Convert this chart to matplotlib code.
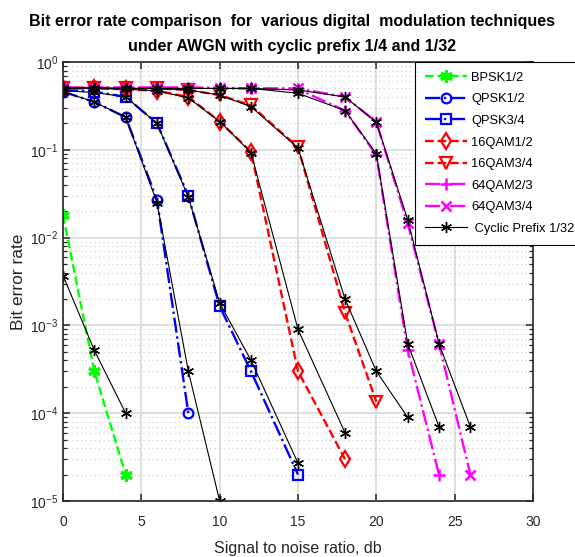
import matplotlib
matplotlib.use("Agg")
import matplotlib.pyplot as plt
from matplotlib.ticker import LogLocator, NullFormatter

plt.rcParams['font.family'] = ['Liberation Sans', 'DejaVu Sans']

# ---- data ----
BPSK12_SNR = [0, 2, 4]
BPSK12_BER = [1.8e-2, 3.0e-4, 2.0e-5]
BPSK12_CP = [3.7e-3, 5.2e-4, 1.0e-4]

QPSK12_SNR = [0, 2, 4, 6, 8]
QPSK12_BER = [0.46, 0.35, 0.235, 0.027, 1.0e-4]
QPSK12_CP_SNR = [0, 2, 4, 6, 8, 10]
QPSK12_CP = [0.46, 0.35, 0.235, 0.025, 3.0e-4, 1.0e-5]

QPSK34_SNR = [0, 2, 4, 6, 8, 10, 12, 15]
QPSK34_BER = [0.48, 0.46, 0.40, 0.20, 0.030, 1.65e-3, 3.0e-4, 2.0e-5]
QPSK34_CP = [0.47, 0.45, 0.40, 0.20, 0.029, 1.8e-3, 4.0e-4, 2.7e-5]

QAM16_12_SNR = [0, 2, 4, 6, 8, 10, 12, 15, 18]
QAM16_12_BER = [0.50, 0.50, 0.49, 0.47, 0.40, 0.21, 0.095, 3.0e-4, 3.0e-5]
QAM16_12_CP = [0.50, 0.50, 0.49, 0.47, 0.39, 0.21, 0.093, 9.0e-4, 6.0e-5]

QAM16_34_SNR = [0, 2, 4, 6, 8, 10, 12, 15, 18, 20]
QAM16_34_BER = [0.51, 0.51, 0.50, 0.50, 0.48, 0.42, 0.32, 0.107, 1.4e-3, 1.35e-4]
QAM16_34_CP_SNR = [0, 2, 4, 6, 8, 10, 12, 15, 18, 20, 22]
QAM16_34_CP = [0.51, 0.51, 0.50, 0.50, 0.48, 0.42, 0.31, 0.105, 2.0e-3, 3.0e-4, 9.0e-5]

QAM64_23_SNR = [0, 2, 4, 6, 8, 10, 12, 15, 18, 20, 22, 24]
QAM64_23_BER = [0.51, 0.51, 0.51, 0.51, 0.51, 0.50, 0.50, 0.49, 0.28, 0.087, 5.3e-4, 2.0e-5]
QAM64_23_CP = [0.50, 0.50, 0.50, 0.50, 0.50, 0.50, 0.50, 0.44, 0.28, 0.090, 6.2e-4, 7.0e-5]

QAM64_34_SNR = [0, 2, 4, 6, 8, 10, 12, 15, 18, 20, 22, 24, 26]
QAM64_34_BER = [0.51, 0.51, 0.51, 0.51, 0.51, 0.51, 0.50, 0.50, 0.40, 0.207, 0.0145, 6.2e-4, 2.0e-5]
QAM64_34_CP = [0.50, 0.50, 0.50, 0.50, 0.50, 0.50, 0.50, 0.48, 0.40, 0.207, 0.016, 6.2e-4, 7.0e-5]

X_TICKS = [0, 5, 10, 15, 20, 25, 30]

GREEN = '#00ff00'
BLUE = '#0000ff'
RED = '#ff0000'
MAGENTA = '#ff00ff'
AX_COLOR = '#262626'
STAR = (6, 2, 0)

fig = plt.figure(figsize=(5.75, 5.57), dpi=100)
ax = fig.add_axes([63/575, 1 - 501/557, 470/575, 439/557])
ax.set_yscale('log')

colored = dict(lw=1.7, ms=7, mew=1.6)
ax.plot(BPSK12_SNR, BPSK12_BER, '--', color=GREEN, marker=STAR, ms=9, mew=2.2, lw=1.7, label='BPSK1/2')
ax.plot(QPSK12_SNR, QPSK12_BER, '-.', color=BLUE, marker='o', mfc='none', label='QPSK1/2', **colored)
ax.plot(QPSK34_SNR, QPSK34_BER, '-.', color=BLUE, marker='s', mfc='none', label='QPSK3/4', **colored)
ax.plot(QAM16_12_SNR, QAM16_12_BER, '--', color=RED, marker='d', mfc='none', ms=8, lw=1.7, mew=1.6, label='16QAM1/2')
ax.plot(QAM16_34_SNR, QAM16_34_BER, '--', color=RED, marker='v', mfc='none', ms=8, lw=1.7, mew=1.6, label='16QAM3/4')
ax.plot(QAM64_23_SNR, QAM64_23_BER, '-.', color=MAGENTA, marker='+', ms=9, lw=1.7, mew=1.8, label='64QAM2/3')
ax.plot(QAM64_34_SNR, QAM64_34_BER, '-.', color=MAGENTA, marker='x', ms=7, lw=1.7, mew=1.8, label='64QAM3/4')

black = dict(color='black', lw=0.8, marker=STAR, ms=8, mew=1.0)
ax.plot(BPSK12_SNR, BPSK12_CP, '-', label=' Cyclic Prefix 1/32', **black)
ax.plot(QPSK12_CP_SNR, QPSK12_CP, '-', **black)
ax.plot(QPSK34_SNR, QPSK34_CP, '-', **black)
ax.plot(QAM16_12_SNR, QAM16_12_CP, '-', **black)
ax.plot(QAM16_34_CP_SNR, QAM16_34_CP, '-', **black)
ax.plot(QAM64_23_SNR, QAM64_23_CP, '-', **black)
ax.plot(QAM64_34_SNR, QAM64_34_CP, '-', **black)

ax.set_xlim(0, 30)
ax.set_ylim(1e-5, 1)
ax.set_xticks(X_TICKS)
ax.yaxis.set_major_locator(LogLocator(base=10, numticks=10))
ax.yaxis.set_minor_locator(LogLocator(base=10, subs=range(2, 10), numticks=10))
ax.yaxis.set_minor_formatter(NullFormatter())

ax.grid(True, which='major', color='#d9d9d9', lw=1.2, ls='-')
ax.grid(True, which='minor', axis='y', color='#c8c8c8', lw=0.8, ls=(0, (1, 3)))
ax.set_axisbelow(True)

ax.tick_params(which='both', direction='in', top=True, right=True, colors=AX_COLOR,
               labelsize=10, labelcolor=AX_COLOR)
ax.tick_params(which='major', length=5, width=1.1)
ax.tick_params(which='minor', length=3, width=0.9)
ax.tick_params(axis='x', pad=10)
for sp in ax.spines.values():
    sp.set_color(AX_COLOR)
    sp.set_linewidth(1.2)

ax.set_xlabel('Signal to noise ratio, db', fontsize=11.5, color=AX_COLOR, labelpad=9)
ax.set_ylabel('Bit error rate', fontsize=12.5, color=AX_COLOR, labelpad=3)
ax.set_title('Bit error rate comparison  for  various digital  modulation techniques\n'
             'under AWGN with cyclic prefix 1/4 and 1/32',
             x=0.487, fontsize=11.5, fontweight='bold', pad=8, linespacing=1.8)

leg = ax.legend(loc='upper left', bbox_to_anchor=(415/575, 1 - 62/557),
                bbox_transform=fig.transFigure, borderaxespad=0, fontsize=9.3,
                handlelength=3.3, handletextpad=0.3, labelspacing=0.74,
                borderpad=0.75, fancybox=False, framealpha=1)
leg.get_frame().set_edgecolor('black')
leg.get_frame().set_linewidth(0.8)

fig.savefig('out.png', dpi=100)
